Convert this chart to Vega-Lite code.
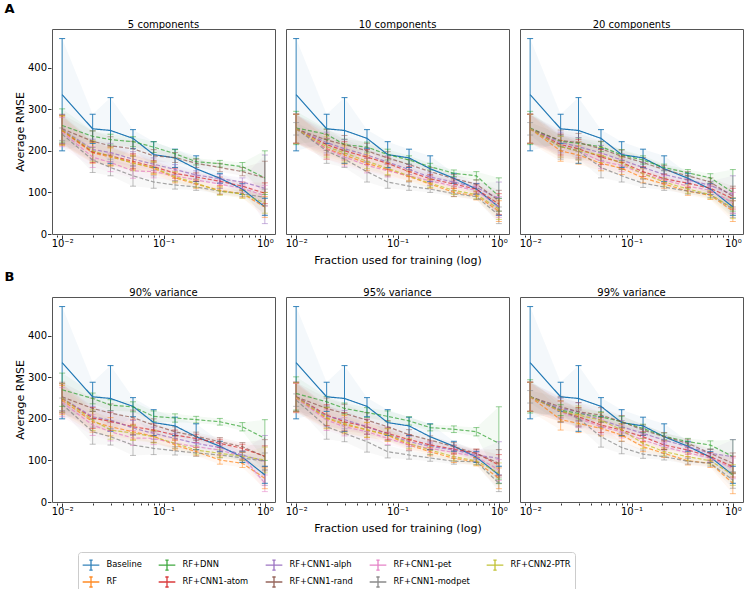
{
  "$schema": "https://vega.github.io/schema/vega-lite/v6.json",
  "padding": {"left": 4, "top": 3, "right": 0, "bottom": 0},
  "background": "white",
  "data": {
    "values": [
      {"p":"5 components","m":"Baseline","f":0.01,"y":335,"lo":200,"hi":470},{"p":"5 components","m":"Baseline","f":0.02,"y":253,"lo":218,"hi":288},{"p":"5 components","m":"Baseline","f":0.03,"y":249,"lo":170,"hi":328},{"p":"5 components","m":"Baseline","f":0.05,"y":230,"lo":205,"hi":251},{"p":"5 components","m":"Baseline","f":0.08,"y":191,"lo":160,"hi":222},{"p":"5 components","m":"Baseline","f":0.13,"y":183,"lo":160,"hi":204},{"p":"5 components","m":"Baseline","f":0.21,"y":157,"lo":126,"hi":188},{"p":"5 components","m":"Baseline","f":0.36,"y":134,"lo":122,"hi":146},{"p":"5 components","m":"Baseline","f":0.6,"y":108,"lo":95,"hi":121},{"p":"5 components","m":"Baseline","f":1,"y":65,"lo":45,"hi":86},
      {"p":"10 components","m":"Baseline","f":0.01,"y":335,"lo":200,"hi":470},{"p":"10 components","m":"Baseline","f":0.02,"y":253,"lo":218,"hi":288},{"p":"10 components","m":"Baseline","f":0.03,"y":249,"lo":170,"hi":328},{"p":"10 components","m":"Baseline","f":0.05,"y":230,"lo":205,"hi":251},{"p":"10 components","m":"Baseline","f":0.08,"y":191,"lo":160,"hi":222},{"p":"10 components","m":"Baseline","f":0.13,"y":183,"lo":160,"hi":204},{"p":"10 components","m":"Baseline","f":0.21,"y":157,"lo":126,"hi":188},{"p":"10 components","m":"Baseline","f":0.36,"y":134,"lo":122,"hi":146},{"p":"10 components","m":"Baseline","f":0.6,"y":108,"lo":95,"hi":121},{"p":"10 components","m":"Baseline","f":1,"y":65,"lo":45,"hi":86},
      {"p":"20 components","m":"Baseline","f":0.01,"y":335,"lo":200,"hi":470},{"p":"20 components","m":"Baseline","f":0.02,"y":253,"lo":218,"hi":288},{"p":"20 components","m":"Baseline","f":0.03,"y":249,"lo":170,"hi":328},{"p":"20 components","m":"Baseline","f":0.05,"y":230,"lo":205,"hi":251},{"p":"20 components","m":"Baseline","f":0.08,"y":191,"lo":160,"hi":222},{"p":"20 components","m":"Baseline","f":0.13,"y":183,"lo":160,"hi":204},{"p":"20 components","m":"Baseline","f":0.21,"y":157,"lo":126,"hi":188},{"p":"20 components","m":"Baseline","f":0.36,"y":134,"lo":122,"hi":146},{"p":"20 components","m":"Baseline","f":0.6,"y":108,"lo":95,"hi":121},{"p":"20 components","m":"Baseline","f":1,"y":65,"lo":45,"hi":86},
      {"p":"90% variance","m":"Baseline","f":0.01,"y":335,"lo":200,"hi":470},{"p":"90% variance","m":"Baseline","f":0.02,"y":253,"lo":218,"hi":288},{"p":"90% variance","m":"Baseline","f":0.03,"y":249,"lo":170,"hi":328},{"p":"90% variance","m":"Baseline","f":0.05,"y":230,"lo":205,"hi":251},{"p":"90% variance","m":"Baseline","f":0.08,"y":191,"lo":160,"hi":222},{"p":"90% variance","m":"Baseline","f":0.13,"y":183,"lo":160,"hi":204},{"p":"90% variance","m":"Baseline","f":0.21,"y":157,"lo":126,"hi":188},{"p":"90% variance","m":"Baseline","f":0.36,"y":134,"lo":122,"hi":146},{"p":"90% variance","m":"Baseline","f":0.6,"y":108,"lo":95,"hi":121},{"p":"90% variance","m":"Baseline","f":1,"y":65,"lo":45,"hi":86},
      {"p":"95% variance","m":"Baseline","f":0.01,"y":335,"lo":200,"hi":470},{"p":"95% variance","m":"Baseline","f":0.02,"y":253,"lo":218,"hi":288},{"p":"95% variance","m":"Baseline","f":0.03,"y":249,"lo":170,"hi":328},{"p":"95% variance","m":"Baseline","f":0.05,"y":230,"lo":205,"hi":251},{"p":"95% variance","m":"Baseline","f":0.08,"y":191,"lo":160,"hi":222},{"p":"95% variance","m":"Baseline","f":0.13,"y":183,"lo":160,"hi":204},{"p":"95% variance","m":"Baseline","f":0.21,"y":157,"lo":126,"hi":188},{"p":"95% variance","m":"Baseline","f":0.36,"y":134,"lo":122,"hi":146},{"p":"95% variance","m":"Baseline","f":0.6,"y":108,"lo":95,"hi":121},{"p":"95% variance","m":"Baseline","f":1,"y":65,"lo":45,"hi":86},
      {"p":"99% variance","m":"Baseline","f":0.01,"y":335,"lo":200,"hi":470},{"p":"99% variance","m":"Baseline","f":0.02,"y":253,"lo":218,"hi":288},{"p":"99% variance","m":"Baseline","f":0.03,"y":249,"lo":170,"hi":328},{"p":"99% variance","m":"Baseline","f":0.05,"y":230,"lo":205,"hi":251},{"p":"99% variance","m":"Baseline","f":0.08,"y":191,"lo":160,"hi":222},{"p":"99% variance","m":"Baseline","f":0.13,"y":183,"lo":160,"hi":204},{"p":"99% variance","m":"Baseline","f":0.21,"y":157,"lo":126,"hi":188},{"p":"99% variance","m":"Baseline","f":0.36,"y":134,"lo":122,"hi":146},{"p":"99% variance","m":"Baseline","f":0.6,"y":108,"lo":95,"hi":121},{"p":"99% variance","m":"Baseline","f":1,"y":65,"lo":45,"hi":86},

      {"p":"5 components","m":"RF","f":0.01,"y":248,"lo":213,"hi":283},{"p":"5 components","m":"RF","f":0.02,"y":195,"lo":170,"hi":220},{"p":"5 components","m":"RF","f":0.03,"y":185,"lo":163,"hi":207},{"p":"5 components","m":"RF","f":0.05,"y":172,"lo":154,"hi":190},{"p":"5 components","m":"RF","f":0.08,"y":158,"lo":143,"hi":173},{"p":"5 components","m":"RF","f":0.13,"y":135,"lo":123,"hi":147},{"p":"5 components","m":"RF","f":0.21,"y":120,"lo":110,"hi":130},{"p":"5 components","m":"RF","f":0.36,"y":105,"lo":95,"hi":115},{"p":"5 components","m":"RF","f":0.6,"y":97,"lo":87,"hi":107},{"p":"5 components","m":"RF","f":1,"y":65,"lo":40,"hi":90},
      {"p":"5 components","m":"RF+DNN","f":0.01,"y":261,"lo":221,"hi":301},{"p":"5 components","m":"RF+DNN","f":0.02,"y":235,"lo":222,"hi":248},{"p":"5 components","m":"RF+DNN","f":0.03,"y":227,"lo":214,"hi":240},{"p":"5 components","m":"RF+DNN","f":0.05,"y":222,"lo":210,"hi":234},{"p":"5 components","m":"RF+DNN","f":0.08,"y":209,"lo":196,"hi":222},{"p":"5 components","m":"RF+DNN","f":0.13,"y":193,"lo":183,"hi":203},{"p":"5 components","m":"RF+DNN","f":0.21,"y":174,"lo":166,"hi":182},{"p":"5 components","m":"RF+DNN","f":0.36,"y":169,"lo":161,"hi":177},{"p":"5 components","m":"RF+DNN","f":0.6,"y":162,"lo":152,"hi":172},{"p":"5 components","m":"RF+DNN","f":1,"y":135,"lo":95,"hi":200},
      {"p":"5 components","m":"RF+CNN1-atom","f":0.01,"y":250,"lo":215,"hi":285},{"p":"5 components","m":"RF+CNN1-atom","f":0.02,"y":197,"lo":172,"hi":222},{"p":"5 components","m":"RF+CNN1-atom","f":0.03,"y":188,"lo":166,"hi":210},{"p":"5 components","m":"RF+CNN1-atom","f":0.05,"y":175,"lo":157,"hi":193},{"p":"5 components","m":"RF+CNN1-atom","f":0.08,"y":162,"lo":147,"hi":177},{"p":"5 components","m":"RF+CNN1-atom","f":0.13,"y":146,"lo":134,"hi":158},{"p":"5 components","m":"RF+CNN1-atom","f":0.21,"y":137,"lo":127,"hi":147},{"p":"5 components","m":"RF+CNN1-atom","f":0.36,"y":127,"lo":117,"hi":137},{"p":"5 components","m":"RF+CNN1-atom","f":0.6,"y":115,"lo":105,"hi":125},{"p":"5 components","m":"RF+CNN1-atom","f":1,"y":98,"lo":73,"hi":123},
      {"p":"5 components","m":"RF+CNN1-alph","f":0.01,"y":252,"lo":217,"hi":287},{"p":"5 components","m":"RF+CNN1-alph","f":0.02,"y":203,"lo":178,"hi":228},{"p":"5 components","m":"RF+CNN1-alph","f":0.03,"y":196,"lo":174,"hi":218},{"p":"5 components","m":"RF+CNN1-alph","f":0.05,"y":180,"lo":162,"hi":198},{"p":"5 components","m":"RF+CNN1-alph","f":0.08,"y":168,"lo":153,"hi":183},{"p":"5 components","m":"RF+CNN1-alph","f":0.13,"y":155,"lo":143,"hi":167},{"p":"5 components","m":"RF+CNN1-alph","f":0.21,"y":142,"lo":132,"hi":152},{"p":"5 components","m":"RF+CNN1-alph","f":0.36,"y":133,"lo":123,"hi":143},{"p":"5 components","m":"RF+CNN1-alph","f":0.6,"y":125,"lo":115,"hi":135},{"p":"5 components","m":"RF+CNN1-alph","f":1,"y":110,"lo":25,"hi":190},
      {"p":"5 components","m":"RF+CNN1-rand","f":0.01,"y":253,"lo":218,"hi":288},{"p":"5 components","m":"RF+CNN1-rand","f":0.02,"y":223,"lo":198,"hi":248},{"p":"5 components","m":"RF+CNN1-rand","f":0.03,"y":212,"lo":190,"hi":234},{"p":"5 components","m":"RF+CNN1-rand","f":0.05,"y":205,"lo":187,"hi":223},{"p":"5 components","m":"RF+CNN1-rand","f":0.08,"y":188,"lo":173,"hi":203},{"p":"5 components","m":"RF+CNN1-rand","f":0.13,"y":184,"lo":172,"hi":196},{"p":"5 components","m":"RF+CNN1-rand","f":0.21,"y":170,"lo":160,"hi":180},{"p":"5 components","m":"RF+CNN1-rand","f":0.36,"y":160,"lo":150,"hi":170},{"p":"5 components","m":"RF+CNN1-rand","f":0.6,"y":150,"lo":140,"hi":160},{"p":"5 components","m":"RF+CNN1-rand","f":1,"y":135,"lo":100,"hi":175},
      {"p":"5 components","m":"RF+CNN1-pet","f":0.01,"y":245,"lo":210,"hi":280},{"p":"5 components","m":"RF+CNN1-pet","f":0.02,"y":185,"lo":160,"hi":210},{"p":"5 components","m":"RF+CNN1-pet","f":0.03,"y":172,"lo":150,"hi":194},{"p":"5 components","m":"RF+CNN1-pet","f":0.05,"y":152,"lo":134,"hi":170},{"p":"5 components","m":"RF+CNN1-pet","f":0.08,"y":150,"lo":135,"hi":165},{"p":"5 components","m":"RF+CNN1-pet","f":0.13,"y":140,"lo":128,"hi":152},{"p":"5 components","m":"RF+CNN1-pet","f":0.21,"y":130,"lo":120,"hi":140},{"p":"5 components","m":"RF+CNN1-pet","f":0.36,"y":120,"lo":110,"hi":130},{"p":"5 components","m":"RF+CNN1-pet","f":0.6,"y":110,"lo":100,"hi":120},{"p":"5 components","m":"RF+CNN1-pet","f":1,"y":92,"lo":67,"hi":117},
      {"p":"5 components","m":"RF+CNN1-modpet","f":0.01,"y":240,"lo":225,"hi":255},{"p":"5 components","m":"RF+CNN1-modpet","f":0.02,"y":178,"lo":148,"hi":208},{"p":"5 components","m":"RF+CNN1-modpet","f":0.03,"y":160,"lo":140,"hi":180},{"p":"5 components","m":"RF+CNN1-modpet","f":0.05,"y":140,"lo":115,"hi":165},{"p":"5 components","m":"RF+CNN1-modpet","f":0.08,"y":125,"lo":110,"hi":140},{"p":"5 components","m":"RF+CNN1-modpet","f":0.13,"y":118,"lo":108,"hi":128},{"p":"5 components","m":"RF+CNN1-modpet","f":0.21,"y":113,"lo":105,"hi":121},{"p":"5 components","m":"RF+CNN1-modpet","f":0.36,"y":103,"lo":96,"hi":110},{"p":"5 components","m":"RF+CNN1-modpet","f":0.6,"y":97,"lo":90,"hi":104},{"p":"5 components","m":"RF+CNN1-modpet","f":1,"y":88,"lo":68,"hi":108},
      {"p":"5 components","m":"RF+CNN2-PTR","f":0.01,"y":250,"lo":215,"hi":285},{"p":"5 components","m":"RF+CNN2-PTR","f":0.02,"y":200,"lo":175,"hi":225},{"p":"5 components","m":"RF+CNN2-PTR","f":0.03,"y":187,"lo":165,"hi":209},{"p":"5 components","m":"RF+CNN2-PTR","f":0.05,"y":170,"lo":152,"hi":188},{"p":"5 components","m":"RF+CNN2-PTR","f":0.08,"y":160,"lo":145,"hi":175},{"p":"5 components","m":"RF+CNN2-PTR","f":0.13,"y":138,"lo":126,"hi":150},{"p":"5 components","m":"RF+CNN2-PTR","f":0.21,"y":122,"lo":112,"hi":132},{"p":"5 components","m":"RF+CNN2-PTR","f":0.36,"y":103,"lo":93,"hi":113},{"p":"5 components","m":"RF+CNN2-PTR","f":0.6,"y":96,"lo":86,"hi":106},{"p":"5 components","m":"RF+CNN2-PTR","f":1,"y":75,"lo":50,"hi":100},

      {"p":"10 components","m":"RF","f":0.01,"y":253,"lo":218,"hi":288},{"p":"10 components","m":"RF","f":0.02,"y":205,"lo":180,"hi":230},{"p":"10 components","m":"RF","f":0.03,"y":190,"lo":168,"hi":212},{"p":"10 components","m":"RF","f":0.05,"y":170,"lo":152,"hi":188},{"p":"10 components","m":"RF","f":0.08,"y":155,"lo":140,"hi":170},{"p":"10 components","m":"RF","f":0.13,"y":138,"lo":126,"hi":150},{"p":"10 components","m":"RF","f":0.21,"y":120,"lo":110,"hi":130},{"p":"10 components","m":"RF","f":0.36,"y":100,"lo":90,"hi":110},{"p":"10 components","m":"RF","f":0.6,"y":92,"lo":82,"hi":102},{"p":"10 components","m":"RF","f":1,"y":55,"lo":30,"hi":80},
      {"p":"10 components","m":"RF+DNN","f":0.01,"y":255,"lo":215,"hi":295},{"p":"10 components","m":"RF+DNN","f":0.02,"y":240,"lo":227,"hi":253},{"p":"10 components","m":"RF+DNN","f":0.03,"y":215,"lo":202,"hi":228},{"p":"10 components","m":"RF+DNN","f":0.05,"y":209,"lo":197,"hi":221},{"p":"10 components","m":"RF+DNN","f":0.08,"y":191,"lo":178,"hi":204},{"p":"10 components","m":"RF+DNN","f":0.13,"y":178,"lo":168,"hi":188},{"p":"10 components","m":"RF+DNN","f":0.21,"y":162,"lo":154,"hi":170},{"p":"10 components","m":"RF+DNN","f":0.36,"y":146,"lo":138,"hi":154},{"p":"10 components","m":"RF+DNN","f":0.6,"y":140,"lo":130,"hi":150},{"p":"10 components","m":"RF+DNN","f":1,"y":91,"lo":55,"hi":135},
      {"p":"10 components","m":"RF+CNN1-atom","f":0.01,"y":253,"lo":218,"hi":288},{"p":"10 components","m":"RF+CNN1-atom","f":0.02,"y":215,"lo":190,"hi":240},{"p":"10 components","m":"RF+CNN1-atom","f":0.03,"y":200,"lo":178,"hi":222},{"p":"10 components","m":"RF+CNN1-atom","f":0.05,"y":185,"lo":167,"hi":203},{"p":"10 components","m":"RF+CNN1-atom","f":0.08,"y":170,"lo":155,"hi":185},{"p":"10 components","m":"RF+CNN1-atom","f":0.13,"y":150,"lo":138,"hi":162},{"p":"10 components","m":"RF+CNN1-atom","f":0.21,"y":133,"lo":123,"hi":143},{"p":"10 components","m":"RF+CNN1-atom","f":0.36,"y":120,"lo":110,"hi":130},{"p":"10 components","m":"RF+CNN1-atom","f":0.6,"y":108,"lo":98,"hi":118},{"p":"10 components","m":"RF+CNN1-atom","f":1,"y":72,"lo":47,"hi":97},
      {"p":"10 components","m":"RF+CNN1-alph","f":0.01,"y":253,"lo":218,"hi":288},{"p":"10 components","m":"RF+CNN1-alph","f":0.02,"y":220,"lo":195,"hi":245},{"p":"10 components","m":"RF+CNN1-alph","f":0.03,"y":205,"lo":183,"hi":227},{"p":"10 components","m":"RF+CNN1-alph","f":0.05,"y":190,"lo":172,"hi":208},{"p":"10 components","m":"RF+CNN1-alph","f":0.08,"y":173,"lo":158,"hi":188},{"p":"10 components","m":"RF+CNN1-alph","f":0.13,"y":155,"lo":143,"hi":167},{"p":"10 components","m":"RF+CNN1-alph","f":0.21,"y":137,"lo":127,"hi":147},{"p":"10 components","m":"RF+CNN1-alph","f":0.36,"y":125,"lo":115,"hi":135},{"p":"10 components","m":"RF+CNN1-alph","f":0.6,"y":112,"lo":102,"hi":122},{"p":"10 components","m":"RF+CNN1-alph","f":1,"y":85,"lo":45,"hi":125},
      {"p":"10 components","m":"RF+CNN1-rand","f":0.01,"y":253,"lo":218,"hi":288},{"p":"10 components","m":"RF+CNN1-rand","f":0.02,"y":226,"lo":201,"hi":251},{"p":"10 components","m":"RF+CNN1-rand","f":0.03,"y":215,"lo":193,"hi":237},{"p":"10 components","m":"RF+CNN1-rand","f":0.05,"y":200,"lo":182,"hi":218},{"p":"10 components","m":"RF+CNN1-rand","f":0.08,"y":183,"lo":168,"hi":198},{"p":"10 components","m":"RF+CNN1-rand","f":0.13,"y":167,"lo":155,"hi":179},{"p":"10 components","m":"RF+CNN1-rand","f":0.21,"y":150,"lo":140,"hi":160},{"p":"10 components","m":"RF+CNN1-rand","f":0.36,"y":133,"lo":123,"hi":143},{"p":"10 components","m":"RF+CNN1-rand","f":0.6,"y":120,"lo":110,"hi":130},{"p":"10 components","m":"RF+CNN1-rand","f":1,"y":80,"lo":55,"hi":105},
      {"p":"10 components","m":"RF+CNN1-pet","f":0.01,"y":253,"lo":218,"hi":288},{"p":"10 components","m":"RF+CNN1-pet","f":0.02,"y":205,"lo":180,"hi":230},{"p":"10 components","m":"RF+CNN1-pet","f":0.03,"y":185,"lo":163,"hi":207},{"p":"10 components","m":"RF+CNN1-pet","f":0.05,"y":165,"lo":147,"hi":183},{"p":"10 components","m":"RF+CNN1-pet","f":0.08,"y":152,"lo":137,"hi":167},{"p":"10 components","m":"RF+CNN1-pet","f":0.13,"y":140,"lo":128,"hi":152},{"p":"10 components","m":"RF+CNN1-pet","f":0.21,"y":128,"lo":118,"hi":138},{"p":"10 components","m":"RF+CNN1-pet","f":0.36,"y":115,"lo":105,"hi":125},{"p":"10 components","m":"RF+CNN1-pet","f":0.6,"y":105,"lo":95,"hi":115},{"p":"10 components","m":"RF+CNN1-pet","f":1,"y":65,"lo":40,"hi":90},
      {"p":"10 components","m":"RF+CNN1-modpet","f":0.01,"y":253,"lo":238,"hi":268},{"p":"10 components","m":"RF+CNN1-modpet","f":0.02,"y":200,"lo":170,"hi":230},{"p":"10 components","m":"RF+CNN1-modpet","f":0.03,"y":180,"lo":160,"hi":200},{"p":"10 components","m":"RF+CNN1-modpet","f":0.05,"y":150,"lo":125,"hi":175},{"p":"10 components","m":"RF+CNN1-modpet","f":0.08,"y":125,"lo":110,"hi":140},{"p":"10 components","m":"RF+CNN1-modpet","f":0.13,"y":115,"lo":105,"hi":125},{"p":"10 components","m":"RF+CNN1-modpet","f":0.21,"y":108,"lo":100,"hi":116},{"p":"10 components","m":"RF+CNN1-modpet","f":0.36,"y":97,"lo":90,"hi":104},{"p":"10 components","m":"RF+CNN1-modpet","f":0.6,"y":90,"lo":83,"hi":97},{"p":"10 components","m":"RF+CNN1-modpet","f":1,"y":45,"lo":25,"hi":65},
      {"p":"10 components","m":"RF+CNN2-PTR","f":0.01,"y":253,"lo":218,"hi":288},{"p":"10 components","m":"RF+CNN2-PTR","f":0.02,"y":210,"lo":185,"hi":235},{"p":"10 components","m":"RF+CNN2-PTR","f":0.03,"y":195,"lo":173,"hi":217},{"p":"10 components","m":"RF+CNN2-PTR","f":0.05,"y":175,"lo":157,"hi":193},{"p":"10 components","m":"RF+CNN2-PTR","f":0.08,"y":158,"lo":143,"hi":173},{"p":"10 components","m":"RF+CNN2-PTR","f":0.13,"y":140,"lo":128,"hi":152},{"p":"10 components","m":"RF+CNN2-PTR","f":0.21,"y":122,"lo":112,"hi":132},{"p":"10 components","m":"RF+CNN2-PTR","f":0.36,"y":105,"lo":95,"hi":115},{"p":"10 components","m":"RF+CNN2-PTR","f":0.6,"y":95,"lo":85,"hi":105},{"p":"10 components","m":"RF+CNN2-PTR","f":1,"y":60,"lo":35,"hi":85},

      {"p":"20 components","m":"RF","f":0.01,"y":253,"lo":218,"hi":288},{"p":"20 components","m":"RF","f":0.02,"y":200,"lo":175,"hi":225},{"p":"20 components","m":"RF","f":0.03,"y":190,"lo":168,"hi":212},{"p":"20 components","m":"RF","f":0.05,"y":170,"lo":152,"hi":188},{"p":"20 components","m":"RF","f":0.08,"y":158,"lo":143,"hi":173},{"p":"20 components","m":"RF","f":0.13,"y":135,"lo":123,"hi":147},{"p":"20 components","m":"RF","f":0.21,"y":120,"lo":110,"hi":130},{"p":"20 components","m":"RF","f":0.36,"y":103,"lo":93,"hi":113},{"p":"20 components","m":"RF","f":0.6,"y":93,"lo":83,"hi":103},{"p":"20 components","m":"RF","f":1,"y":55,"lo":30,"hi":80},
      {"p":"20 components","m":"RF+DNN","f":0.01,"y":255,"lo":215,"hi":295},{"p":"20 components","m":"RF+DNN","f":0.02,"y":223,"lo":210,"hi":236},{"p":"20 components","m":"RF+DNN","f":0.03,"y":218,"lo":205,"hi":231},{"p":"20 components","m":"RF+DNN","f":0.05,"y":210,"lo":198,"hi":222},{"p":"20 components","m":"RF+DNN","f":0.08,"y":190,"lo":177,"hi":203},{"p":"20 components","m":"RF+DNN","f":0.13,"y":178,"lo":168,"hi":188},{"p":"20 components","m":"RF+DNN","f":0.21,"y":160,"lo":152,"hi":168},{"p":"20 components","m":"RF+DNN","f":0.36,"y":147,"lo":139,"hi":155},{"p":"20 components","m":"RF+DNN","f":0.6,"y":135,"lo":125,"hi":145},{"p":"20 components","m":"RF+DNN","f":1,"y":100,"lo":55,"hi":155},
      {"p":"20 components","m":"RF+CNN1-atom","f":0.01,"y":253,"lo":218,"hi":288},{"p":"20 components","m":"RF+CNN1-atom","f":0.02,"y":215,"lo":190,"hi":240},{"p":"20 components","m":"RF+CNN1-atom","f":0.03,"y":205,"lo":183,"hi":227},{"p":"20 components","m":"RF+CNN1-atom","f":0.05,"y":185,"lo":167,"hi":203},{"p":"20 components","m":"RF+CNN1-atom","f":0.08,"y":172,"lo":157,"hi":187},{"p":"20 components","m":"RF+CNN1-atom","f":0.13,"y":150,"lo":138,"hi":162},{"p":"20 components","m":"RF+CNN1-atom","f":0.21,"y":133,"lo":123,"hi":143},{"p":"20 components","m":"RF+CNN1-atom","f":0.36,"y":122,"lo":112,"hi":132},{"p":"20 components","m":"RF+CNN1-atom","f":0.6,"y":110,"lo":100,"hi":120},{"p":"20 components","m":"RF+CNN1-atom","f":1,"y":85,"lo":60,"hi":110},
      {"p":"20 components","m":"RF+CNN1-alph","f":0.01,"y":253,"lo":218,"hi":288},{"p":"20 components","m":"RF+CNN1-alph","f":0.02,"y":220,"lo":195,"hi":245},{"p":"20 components","m":"RF+CNN1-alph","f":0.03,"y":210,"lo":188,"hi":232},{"p":"20 components","m":"RF+CNN1-alph","f":0.05,"y":195,"lo":177,"hi":213},{"p":"20 components","m":"RF+CNN1-alph","f":0.08,"y":178,"lo":163,"hi":193},{"p":"20 components","m":"RF+CNN1-alph","f":0.13,"y":160,"lo":148,"hi":172},{"p":"20 components","m":"RF+CNN1-alph","f":0.21,"y":143,"lo":133,"hi":153},{"p":"20 components","m":"RF+CNN1-alph","f":0.36,"y":130,"lo":120,"hi":140},{"p":"20 components","m":"RF+CNN1-alph","f":0.6,"y":117,"lo":107,"hi":127},{"p":"20 components","m":"RF+CNN1-alph","f":1,"y":95,"lo":50,"hi":140},
      {"p":"20 components","m":"RF+CNN1-rand","f":0.01,"y":253,"lo":218,"hi":288},{"p":"20 components","m":"RF+CNN1-rand","f":0.02,"y":225,"lo":200,"hi":250},{"p":"20 components","m":"RF+CNN1-rand","f":0.03,"y":220,"lo":198,"hi":242},{"p":"20 components","m":"RF+CNN1-rand","f":0.05,"y":205,"lo":187,"hi":223},{"p":"20 components","m":"RF+CNN1-rand","f":0.08,"y":187,"lo":172,"hi":202},{"p":"20 components","m":"RF+CNN1-rand","f":0.13,"y":172,"lo":160,"hi":184},{"p":"20 components","m":"RF+CNN1-rand","f":0.21,"y":155,"lo":145,"hi":165},{"p":"20 components","m":"RF+CNN1-rand","f":0.36,"y":140,"lo":130,"hi":150},{"p":"20 components","m":"RF+CNN1-rand","f":0.6,"y":125,"lo":115,"hi":135},{"p":"20 components","m":"RF+CNN1-rand","f":1,"y":90,"lo":65,"hi":115},
      {"p":"20 components","m":"RF+CNN1-pet","f":0.01,"y":253,"lo":218,"hi":288},{"p":"20 components","m":"RF+CNN1-pet","f":0.02,"y":210,"lo":185,"hi":235},{"p":"20 components","m":"RF+CNN1-pet","f":0.03,"y":200,"lo":178,"hi":222},{"p":"20 components","m":"RF+CNN1-pet","f":0.05,"y":175,"lo":157,"hi":193},{"p":"20 components","m":"RF+CNN1-pet","f":0.08,"y":165,"lo":150,"hi":180},{"p":"20 components","m":"RF+CNN1-pet","f":0.13,"y":145,"lo":133,"hi":157},{"p":"20 components","m":"RF+CNN1-pet","f":0.21,"y":130,"lo":120,"hi":140},{"p":"20 components","m":"RF+CNN1-pet","f":0.36,"y":115,"lo":105,"hi":125},{"p":"20 components","m":"RF+CNN1-pet","f":0.6,"y":105,"lo":95,"hi":115},{"p":"20 components","m":"RF+CNN1-pet","f":1,"y":75,"lo":50,"hi":100},
      {"p":"20 components","m":"RF+CNN1-modpet","f":0.01,"y":253,"lo":238,"hi":268},{"p":"20 components","m":"RF+CNN1-modpet","f":0.02,"y":210,"lo":180,"hi":240},{"p":"20 components","m":"RF+CNN1-modpet","f":0.03,"y":200,"lo":180,"hi":220},{"p":"20 components","m":"RF+CNN1-modpet","f":0.05,"y":160,"lo":135,"hi":185},{"p":"20 components","m":"RF+CNN1-modpet","f":0.08,"y":140,"lo":125,"hi":155},{"p":"20 components","m":"RF+CNN1-modpet","f":0.13,"y":122,"lo":112,"hi":132},{"p":"20 components","m":"RF+CNN1-modpet","f":0.21,"y":113,"lo":105,"hi":121},{"p":"20 components","m":"RF+CNN1-modpet","f":0.36,"y":103,"lo":96,"hi":110},{"p":"20 components","m":"RF+CNN1-modpet","f":0.6,"y":95,"lo":88,"hi":102},{"p":"20 components","m":"RF+CNN1-modpet","f":1,"y":60,"lo":40,"hi":80},
      {"p":"20 components","m":"RF+CNN2-PTR","f":0.01,"y":253,"lo":218,"hi":288},{"p":"20 components","m":"RF+CNN2-PTR","f":0.02,"y":210,"lo":185,"hi":235},{"p":"20 components","m":"RF+CNN2-PTR","f":0.03,"y":200,"lo":178,"hi":222},{"p":"20 components","m":"RF+CNN2-PTR","f":0.05,"y":190,"lo":172,"hi":208},{"p":"20 components","m":"RF+CNN2-PTR","f":0.08,"y":170,"lo":155,"hi":185},{"p":"20 components","m":"RF+CNN2-PTR","f":0.13,"y":145,"lo":133,"hi":157},{"p":"20 components","m":"RF+CNN2-PTR","f":0.21,"y":125,"lo":115,"hi":135},{"p":"20 components","m":"RF+CNN2-PTR","f":0.36,"y":108,"lo":98,"hi":118},{"p":"20 components","m":"RF+CNN2-PTR","f":0.6,"y":95,"lo":85,"hi":105},{"p":"20 components","m":"RF+CNN2-PTR","f":1,"y":62,"lo":37,"hi":87},

      {"p":"90% variance","m":"RF","f":0.01,"y":245,"lo":210,"hi":280},{"p":"90% variance","m":"RF","f":0.02,"y":193,"lo":168,"hi":218},{"p":"90% variance","m":"RF","f":0.03,"y":181,"lo":159,"hi":203},{"p":"90% variance","m":"RF","f":0.05,"y":169,"lo":151,"hi":187},{"p":"90% variance","m":"RF","f":0.08,"y":158,"lo":143,"hi":173},{"p":"90% variance","m":"RF","f":0.13,"y":137,"lo":125,"hi":149},{"p":"90% variance","m":"RF","f":0.21,"y":121,"lo":111,"hi":131},{"p":"90% variance","m":"RF","f":0.36,"y":101,"lo":91,"hi":111},{"p":"90% variance","m":"RF","f":0.6,"y":93,"lo":83,"hi":103},{"p":"90% variance","m":"RF","f":1,"y":57,"lo":32,"hi":82},
      {"p":"90% variance","m":"RF+DNN","f":0.01,"y":270,"lo":230,"hi":310},{"p":"90% variance","m":"RF+DNN","f":0.02,"y":249,"lo":236,"hi":262},{"p":"90% variance","m":"RF+DNN","f":0.03,"y":233,"lo":220,"hi":246},{"p":"90% variance","m":"RF+DNN","f":0.05,"y":229,"lo":217,"hi":241},{"p":"90% variance","m":"RF+DNN","f":0.08,"y":206,"lo":193,"hi":219},{"p":"90% variance","m":"RF+DNN","f":0.13,"y":202,"lo":192,"hi":212},{"p":"90% variance","m":"RF+DNN","f":0.21,"y":198,"lo":190,"hi":206},{"p":"90% variance","m":"RF+DNN","f":0.36,"y":193,"lo":185,"hi":201},{"p":"90% variance","m":"RF+DNN","f":0.6,"y":181,"lo":171,"hi":191},{"p":"90% variance","m":"RF+DNN","f":1,"y":153,"lo":100,"hi":198},
      {"p":"90% variance","m":"RF+CNN1-atom","f":0.01,"y":249,"lo":214,"hi":284},{"p":"90% variance","m":"RF+CNN1-atom","f":0.02,"y":202,"lo":177,"hi":227},{"p":"90% variance","m":"RF+CNN1-atom","f":0.03,"y":194,"lo":172,"hi":216},{"p":"90% variance","m":"RF+CNN1-atom","f":0.05,"y":181,"lo":163,"hi":199},{"p":"90% variance","m":"RF+CNN1-atom","f":0.08,"y":173,"lo":158,"hi":188},{"p":"90% variance","m":"RF+CNN1-atom","f":0.13,"y":161,"lo":149,"hi":173},{"p":"90% variance","m":"RF+CNN1-atom","f":0.21,"y":153,"lo":143,"hi":163},{"p":"90% variance","m":"RF+CNN1-atom","f":0.36,"y":141,"lo":131,"hi":151},{"p":"90% variance","m":"RF+CNN1-atom","f":0.6,"y":129,"lo":119,"hi":139},{"p":"90% variance","m":"RF+CNN1-atom","f":1,"y":110,"lo":85,"hi":135},
      {"p":"90% variance","m":"RF+CNN1-alph","f":0.01,"y":250,"lo":215,"hi":285},{"p":"90% variance","m":"RF+CNN1-alph","f":0.02,"y":205,"lo":180,"hi":230},{"p":"90% variance","m":"RF+CNN1-alph","f":0.03,"y":197,"lo":175,"hi":219},{"p":"90% variance","m":"RF+CNN1-alph","f":0.05,"y":178,"lo":160,"hi":196},{"p":"90% variance","m":"RF+CNN1-alph","f":0.08,"y":165,"lo":150,"hi":180},{"p":"90% variance","m":"RF+CNN1-alph","f":0.13,"y":153,"lo":141,"hi":165},{"p":"90% variance","m":"RF+CNN1-alph","f":0.21,"y":141,"lo":131,"hi":151},{"p":"90% variance","m":"RF+CNN1-alph","f":0.36,"y":131,"lo":121,"hi":141},{"p":"90% variance","m":"RF+CNN1-alph","f":0.6,"y":113,"lo":103,"hi":123},{"p":"90% variance","m":"RF+CNN1-alph","f":1,"y":98,"lo":40,"hi":160},
      {"p":"90% variance","m":"RF+CNN1-rand","f":0.01,"y":253,"lo":218,"hi":288},{"p":"90% variance","m":"RF+CNN1-rand","f":0.02,"y":225,"lo":200,"hi":250},{"p":"90% variance","m":"RF+CNN1-rand","f":0.03,"y":214,"lo":192,"hi":236},{"p":"90% variance","m":"RF+CNN1-rand","f":0.05,"y":203,"lo":185,"hi":221},{"p":"90% variance","m":"RF+CNN1-rand","f":0.08,"y":185,"lo":170,"hi":200},{"p":"90% variance","m":"RF+CNN1-rand","f":0.13,"y":169,"lo":157,"hi":181},{"p":"90% variance","m":"RF+CNN1-rand","f":0.21,"y":158,"lo":148,"hi":168},{"p":"90% variance","m":"RF+CNN1-rand","f":0.36,"y":145,"lo":135,"hi":155},{"p":"90% variance","m":"RF+CNN1-rand","f":0.6,"y":133,"lo":123,"hi":143},{"p":"90% variance","m":"RF+CNN1-rand","f":1,"y":109,"lo":75,"hi":150},
      {"p":"90% variance","m":"RF+CNN1-pet","f":0.01,"y":240,"lo":205,"hi":275},{"p":"90% variance","m":"RF+CNN1-pet","f":0.02,"y":185,"lo":160,"hi":210},{"p":"90% variance","m":"RF+CNN1-pet","f":0.03,"y":169,"lo":147,"hi":191},{"p":"90% variance","m":"RF+CNN1-pet","f":0.05,"y":154,"lo":136,"hi":172},{"p":"90% variance","m":"RF+CNN1-pet","f":0.08,"y":153,"lo":138,"hi":168},{"p":"90% variance","m":"RF+CNN1-pet","f":0.13,"y":141,"lo":129,"hi":153},{"p":"90% variance","m":"RF+CNN1-pet","f":0.21,"y":133,"lo":123,"hi":143},{"p":"90% variance","m":"RF+CNN1-pet","f":0.36,"y":125,"lo":115,"hi":135},{"p":"90% variance","m":"RF+CNN1-pet","f":0.6,"y":110,"lo":100,"hi":120},{"p":"90% variance","m":"RF+CNN1-pet","f":1,"y":45,"lo":25,"hi":65},
      {"p":"90% variance","m":"RF+CNN1-modpet","f":0.01,"y":235,"lo":220,"hi":250},{"p":"90% variance","m":"RF+CNN1-modpet","f":0.02,"y":169,"lo":139,"hi":199},{"p":"90% variance","m":"RF+CNN1-modpet","f":0.03,"y":157,"lo":137,"hi":177},{"p":"90% variance","m":"RF+CNN1-modpet","f":0.05,"y":137,"lo":112,"hi":162},{"p":"90% variance","m":"RF+CNN1-modpet","f":0.08,"y":129,"lo":114,"hi":144},{"p":"90% variance","m":"RF+CNN1-modpet","f":0.13,"y":123,"lo":113,"hi":133},{"p":"90% variance","m":"RF+CNN1-modpet","f":0.21,"y":118,"lo":110,"hi":126},{"p":"90% variance","m":"RF+CNN1-modpet","f":0.36,"y":113,"lo":106,"hi":120},{"p":"90% variance","m":"RF+CNN1-modpet","f":0.6,"y":106,"lo":99,"hi":113},{"p":"90% variance","m":"RF+CNN1-modpet","f":1,"y":98,"lo":78,"hi":118},
      {"p":"90% variance","m":"RF+CNN2-PTR","f":0.01,"y":250,"lo":215,"hi":285},{"p":"90% variance","m":"RF+CNN2-PTR","f":0.02,"y":197,"lo":172,"hi":222},{"p":"90% variance","m":"RF+CNN2-PTR","f":0.03,"y":173,"lo":151,"hi":195},{"p":"90% variance","m":"RF+CNN2-PTR","f":0.05,"y":166,"lo":148,"hi":184},{"p":"90% variance","m":"RF+CNN2-PTR","f":0.08,"y":157,"lo":142,"hi":172},{"p":"90% variance","m":"RF+CNN2-PTR","f":0.13,"y":141,"lo":129,"hi":153},{"p":"90% variance","m":"RF+CNN2-PTR","f":0.21,"y":125,"lo":115,"hi":135},{"p":"90% variance","m":"RF+CNN2-PTR","f":0.36,"y":117,"lo":107,"hi":127},{"p":"90% variance","m":"RF+CNN2-PTR","f":0.6,"y":110,"lo":100,"hi":120},{"p":"90% variance","m":"RF+CNN2-PTR","f":1,"y":101,"lo":70,"hi":132},

      {"p":"95% variance","m":"RF","f":0.01,"y":250,"lo":215,"hi":285},{"p":"95% variance","m":"RF","f":0.02,"y":201,"lo":176,"hi":226},{"p":"95% variance","m":"RF","f":0.03,"y":186,"lo":164,"hi":208},{"p":"95% variance","m":"RF","f":0.05,"y":173,"lo":155,"hi":191},{"p":"95% variance","m":"RF","f":0.08,"y":161,"lo":146,"hi":176},{"p":"95% variance","m":"RF","f":0.13,"y":137,"lo":125,"hi":149},{"p":"95% variance","m":"RF","f":0.21,"y":121,"lo":111,"hi":131},{"p":"95% variance","m":"RF","f":0.36,"y":105,"lo":95,"hi":115},{"p":"95% variance","m":"RF","f":0.6,"y":97,"lo":87,"hi":107},{"p":"95% variance","m":"RF","f":1,"y":57,"lo":32,"hi":82},
      {"p":"95% variance","m":"RF+DNN","f":0.01,"y":261,"lo":221,"hi":301},{"p":"95% variance","m":"RF+DNN","f":0.02,"y":241,"lo":228,"hi":254},{"p":"95% variance","m":"RF+DNN","f":0.03,"y":225,"lo":212,"hi":238},{"p":"95% variance","m":"RF+DNN","f":0.05,"y":215,"lo":203,"hi":227},{"p":"95% variance","m":"RF+DNN","f":0.08,"y":206,"lo":193,"hi":219},{"p":"95% variance","m":"RF+DNN","f":0.13,"y":195,"lo":185,"hi":205},{"p":"95% variance","m":"RF+DNN","f":0.21,"y":179,"lo":171,"hi":187},{"p":"95% variance","m":"RF+DNN","f":0.36,"y":175,"lo":167,"hi":183},{"p":"95% variance","m":"RF+DNN","f":0.6,"y":169,"lo":159,"hi":179},{"p":"95% variance","m":"RF+DNN","f":1,"y":141,"lo":55,"hi":229},
      {"p":"95% variance","m":"RF+CNN1-atom","f":0.01,"y":253,"lo":218,"hi":288},{"p":"95% variance","m":"RF+CNN1-atom","f":0.02,"y":209,"lo":184,"hi":234},{"p":"95% variance","m":"RF+CNN1-atom","f":0.03,"y":193,"lo":171,"hi":215},{"p":"95% variance","m":"RF+CNN1-atom","f":0.05,"y":181,"lo":163,"hi":199},{"p":"95% variance","m":"RF+CNN1-atom","f":0.08,"y":165,"lo":150,"hi":180},{"p":"95% variance","m":"RF+CNN1-atom","f":0.13,"y":150,"lo":138,"hi":162},{"p":"95% variance","m":"RF+CNN1-atom","f":0.21,"y":137,"lo":127,"hi":147},{"p":"95% variance","m":"RF+CNN1-atom","f":0.36,"y":127,"lo":117,"hi":137},{"p":"95% variance","m":"RF+CNN1-atom","f":0.6,"y":117,"lo":107,"hi":127},{"p":"95% variance","m":"RF+CNN1-atom","f":1,"y":89,"lo":64,"hi":114},
      {"p":"95% variance","m":"RF+CNN1-alph","f":0.01,"y":253,"lo":218,"hi":288},{"p":"95% variance","m":"RF+CNN1-alph","f":0.02,"y":206,"lo":181,"hi":231},{"p":"95% variance","m":"RF+CNN1-alph","f":0.03,"y":198,"lo":176,"hi":220},{"p":"95% variance","m":"RF+CNN1-alph","f":0.05,"y":181,"lo":163,"hi":199},{"p":"95% variance","m":"RF+CNN1-alph","f":0.08,"y":163,"lo":148,"hi":178},{"p":"95% variance","m":"RF+CNN1-alph","f":0.13,"y":145,"lo":133,"hi":157},{"p":"95% variance","m":"RF+CNN1-alph","f":0.21,"y":134,"lo":124,"hi":144},{"p":"95% variance","m":"RF+CNN1-alph","f":0.36,"y":125,"lo":115,"hi":135},{"p":"95% variance","m":"RF+CNN1-alph","f":0.6,"y":113,"lo":103,"hi":123},{"p":"95% variance","m":"RF+CNN1-alph","f":1,"y":105,"lo":65,"hi":145},
      {"p":"95% variance","m":"RF+CNN1-rand","f":0.01,"y":253,"lo":218,"hi":288},{"p":"95% variance","m":"RF+CNN1-rand","f":0.02,"y":225,"lo":200,"hi":250},{"p":"95% variance","m":"RF+CNN1-rand","f":0.03,"y":213,"lo":191,"hi":235},{"p":"95% variance","m":"RF+CNN1-rand","f":0.05,"y":197,"lo":179,"hi":215},{"p":"95% variance","m":"RF+CNN1-rand","f":0.08,"y":181,"lo":166,"hi":196},{"p":"95% variance","m":"RF+CNN1-rand","f":0.13,"y":162,"lo":150,"hi":174},{"p":"95% variance","m":"RF+CNN1-rand","f":0.21,"y":149,"lo":139,"hi":159},{"p":"95% variance","m":"RF+CNN1-rand","f":0.36,"y":133,"lo":123,"hi":143},{"p":"95% variance","m":"RF+CNN1-rand","f":0.6,"y":117,"lo":107,"hi":127},{"p":"95% variance","m":"RF+CNN1-rand","f":1,"y":93,"lo":60,"hi":126},
      {"p":"95% variance","m":"RF+CNN1-pet","f":0.01,"y":250,"lo":215,"hi":285},{"p":"95% variance","m":"RF+CNN1-pet","f":0.02,"y":197,"lo":172,"hi":222},{"p":"95% variance","m":"RF+CNN1-pet","f":0.03,"y":181,"lo":159,"hi":203},{"p":"95% variance","m":"RF+CNN1-pet","f":0.05,"y":169,"lo":151,"hi":187},{"p":"95% variance","m":"RF+CNN1-pet","f":0.08,"y":153,"lo":138,"hi":168},{"p":"95% variance","m":"RF+CNN1-pet","f":0.13,"y":137,"lo":125,"hi":149},{"p":"95% variance","m":"RF+CNN1-pet","f":0.21,"y":129,"lo":119,"hi":139},{"p":"95% variance","m":"RF+CNN1-pet","f":0.36,"y":119,"lo":109,"hi":129},{"p":"95% variance","m":"RF+CNN1-pet","f":0.6,"y":109,"lo":99,"hi":119},{"p":"95% variance","m":"RF+CNN1-pet","f":1,"y":77,"lo":52,"hi":102},
      {"p":"95% variance","m":"RF+CNN1-modpet","f":0.01,"y":245,"lo":230,"hi":260},{"p":"95% variance","m":"RF+CNN1-modpet","f":0.02,"y":181,"lo":151,"hi":211},{"p":"95% variance","m":"RF+CNN1-modpet","f":0.03,"y":165,"lo":145,"hi":185},{"p":"95% variance","m":"RF+CNN1-modpet","f":0.05,"y":145,"lo":120,"hi":170},{"p":"95% variance","m":"RF+CNN1-modpet","f":0.08,"y":121,"lo":106,"hi":136},{"p":"95% variance","m":"RF+CNN1-modpet","f":0.13,"y":113,"lo":103,"hi":123},{"p":"95% variance","m":"RF+CNN1-modpet","f":0.21,"y":106,"lo":98,"hi":114},{"p":"95% variance","m":"RF+CNN1-modpet","f":0.36,"y":98,"lo":91,"hi":105},{"p":"95% variance","m":"RF+CNN1-modpet","f":0.6,"y":97,"lo":90,"hi":104},{"p":"95% variance","m":"RF+CNN1-modpet","f":1,"y":45,"lo":25,"hi":65},
      {"p":"95% variance","m":"RF+CNN2-PTR","f":0.01,"y":252,"lo":217,"hi":287},{"p":"95% variance","m":"RF+CNN2-PTR","f":0.02,"y":203,"lo":178,"hi":228},{"p":"95% variance","m":"RF+CNN2-PTR","f":0.03,"y":189,"lo":167,"hi":211},{"p":"95% variance","m":"RF+CNN2-PTR","f":0.05,"y":174,"lo":156,"hi":192},{"p":"95% variance","m":"RF+CNN2-PTR","f":0.08,"y":162,"lo":147,"hi":177},{"p":"95% variance","m":"RF+CNN2-PTR","f":0.13,"y":141,"lo":129,"hi":153},{"p":"95% variance","m":"RF+CNN2-PTR","f":0.21,"y":125,"lo":115,"hi":135},{"p":"95% variance","m":"RF+CNN2-PTR","f":0.36,"y":109,"lo":99,"hi":119},{"p":"95% variance","m":"RF+CNN2-PTR","f":0.6,"y":99,"lo":89,"hi":109},{"p":"95% variance","m":"RF+CNN2-PTR","f":1,"y":69,"lo":44,"hi":94},

      {"p":"99% variance","m":"RF","f":0.01,"y":253,"lo":218,"hi":288},{"p":"99% variance","m":"RF","f":0.02,"y":198,"lo":173,"hi":223},{"p":"99% variance","m":"RF","f":0.03,"y":189,"lo":167,"hi":211},{"p":"99% variance","m":"RF","f":0.05,"y":177,"lo":159,"hi":195},{"p":"99% variance","m":"RF","f":0.08,"y":161,"lo":146,"hi":176},{"p":"99% variance","m":"RF","f":0.13,"y":133,"lo":121,"hi":145},{"p":"99% variance","m":"RF","f":0.21,"y":117,"lo":107,"hi":127},{"p":"99% variance","m":"RF","f":0.36,"y":99,"lo":89,"hi":109},{"p":"99% variance","m":"RF","f":0.6,"y":93,"lo":83,"hi":103},{"p":"99% variance","m":"RF","f":1,"y":45,"lo":20,"hi":70},
      {"p":"99% variance","m":"RF+DNN","f":0.01,"y":254,"lo":214,"hi":294},{"p":"99% variance","m":"RF+DNN","f":0.02,"y":221,"lo":208,"hi":234},{"p":"99% variance","m":"RF+DNN","f":0.03,"y":213,"lo":200,"hi":226},{"p":"99% variance","m":"RF+DNN","f":0.05,"y":205,"lo":193,"hi":217},{"p":"99% variance","m":"RF+DNN","f":0.08,"y":193,"lo":180,"hi":206},{"p":"99% variance","m":"RF+DNN","f":0.13,"y":177,"lo":167,"hi":187},{"p":"99% variance","m":"RF+DNN","f":0.21,"y":158,"lo":150,"hi":166},{"p":"99% variance","m":"RF+DNN","f":0.36,"y":145,"lo":137,"hi":153},{"p":"99% variance","m":"RF+DNN","f":0.6,"y":137,"lo":127,"hi":147},{"p":"99% variance","m":"RF+DNN","f":1,"y":109,"lo":70,"hi":150},
      {"p":"99% variance","m":"RF+CNN1-atom","f":0.01,"y":253,"lo":218,"hi":288},{"p":"99% variance","m":"RF+CNN1-atom","f":0.02,"y":218,"lo":193,"hi":243},{"p":"99% variance","m":"RF+CNN1-atom","f":0.03,"y":205,"lo":183,"hi":227},{"p":"99% variance","m":"RF+CNN1-atom","f":0.05,"y":185,"lo":167,"hi":203},{"p":"99% variance","m":"RF+CNN1-atom","f":0.08,"y":173,"lo":158,"hi":188},{"p":"99% variance","m":"RF+CNN1-atom","f":0.13,"y":157,"lo":145,"hi":169},{"p":"99% variance","m":"RF+CNN1-atom","f":0.21,"y":137,"lo":127,"hi":147},{"p":"99% variance","m":"RF+CNN1-atom","f":0.36,"y":125,"lo":115,"hi":135},{"p":"99% variance","m":"RF+CNN1-atom","f":0.6,"y":109,"lo":99,"hi":119},{"p":"99% variance","m":"RF+CNN1-atom","f":1,"y":85,"lo":60,"hi":110},
      {"p":"99% variance","m":"RF+CNN1-alph","f":0.01,"y":253,"lo":218,"hi":288},{"p":"99% variance","m":"RF+CNN1-alph","f":0.02,"y":225,"lo":200,"hi":250},{"p":"99% variance","m":"RF+CNN1-alph","f":0.03,"y":217,"lo":195,"hi":239},{"p":"99% variance","m":"RF+CNN1-alph","f":0.05,"y":197,"lo":179,"hi":215},{"p":"99% variance","m":"RF+CNN1-alph","f":0.08,"y":181,"lo":166,"hi":196},{"p":"99% variance","m":"RF+CNN1-alph","f":0.13,"y":165,"lo":153,"hi":177},{"p":"99% variance","m":"RF+CNN1-alph","f":0.21,"y":149,"lo":139,"hi":159},{"p":"99% variance","m":"RF+CNN1-alph","f":0.36,"y":133,"lo":123,"hi":143},{"p":"99% variance","m":"RF+CNN1-alph","f":0.6,"y":117,"lo":107,"hi":127},{"p":"99% variance","m":"RF+CNN1-alph","f":1,"y":109,"lo":70,"hi":150},
      {"p":"99% variance","m":"RF+CNN1-rand","f":0.01,"y":253,"lo":218,"hi":288},{"p":"99% variance","m":"RF+CNN1-rand","f":0.02,"y":229,"lo":204,"hi":254},{"p":"99% variance","m":"RF+CNN1-rand","f":0.03,"y":217,"lo":195,"hi":239},{"p":"99% variance","m":"RF+CNN1-rand","f":0.05,"y":209,"lo":191,"hi":227},{"p":"99% variance","m":"RF+CNN1-rand","f":0.08,"y":193,"lo":178,"hi":208},{"p":"99% variance","m":"RF+CNN1-rand","f":0.13,"y":173,"lo":161,"hi":185},{"p":"99% variance","m":"RF+CNN1-rand","f":0.21,"y":157,"lo":147,"hi":167},{"p":"99% variance","m":"RF+CNN1-rand","f":0.36,"y":141,"lo":131,"hi":151},{"p":"99% variance","m":"RF+CNN1-rand","f":0.6,"y":117,"lo":107,"hi":127},{"p":"99% variance","m":"RF+CNN1-rand","f":1,"y":93,"lo":68,"hi":118},
      {"p":"99% variance","m":"RF+CNN1-pet","f":0.01,"y":253,"lo":218,"hi":288},{"p":"99% variance","m":"RF+CNN1-pet","f":0.02,"y":217,"lo":192,"hi":242},{"p":"99% variance","m":"RF+CNN1-pet","f":0.03,"y":201,"lo":179,"hi":223},{"p":"99% variance","m":"RF+CNN1-pet","f":0.05,"y":181,"lo":163,"hi":199},{"p":"99% variance","m":"RF+CNN1-pet","f":0.08,"y":169,"lo":154,"hi":184},{"p":"99% variance","m":"RF+CNN1-pet","f":0.13,"y":149,"lo":137,"hi":161},{"p":"99% variance","m":"RF+CNN1-pet","f":0.21,"y":133,"lo":123,"hi":143},{"p":"99% variance","m":"RF+CNN1-pet","f":0.36,"y":118,"lo":108,"hi":128},{"p":"99% variance","m":"RF+CNN1-pet","f":0.6,"y":106,"lo":96,"hi":116},{"p":"99% variance","m":"RF+CNN1-pet","f":1,"y":81,"lo":56,"hi":106},
      {"p":"99% variance","m":"RF+CNN1-modpet","f":0.01,"y":253,"lo":238,"hi":268},{"p":"99% variance","m":"RF+CNN1-modpet","f":0.02,"y":221,"lo":191,"hi":251},{"p":"99% variance","m":"RF+CNN1-modpet","f":0.03,"y":201,"lo":181,"hi":221},{"p":"99% variance","m":"RF+CNN1-modpet","f":0.05,"y":157,"lo":132,"hi":182},{"p":"99% variance","m":"RF+CNN1-modpet","f":0.08,"y":131,"lo":116,"hi":146},{"p":"99% variance","m":"RF+CNN1-modpet","f":0.13,"y":115,"lo":105,"hi":125},{"p":"99% variance","m":"RF+CNN1-modpet","f":0.21,"y":109,"lo":101,"hi":117},{"p":"99% variance","m":"RF+CNN1-modpet","f":0.36,"y":98,"lo":91,"hi":105},{"p":"99% variance","m":"RF+CNN1-modpet","f":0.6,"y":93,"lo":86,"hi":100},{"p":"99% variance","m":"RF+CNN1-modpet","f":1,"y":53,"lo":33,"hi":73},
      {"p":"99% variance","m":"RF+CNN2-PTR","f":0.01,"y":253,"lo":218,"hi":288},{"p":"99% variance","m":"RF+CNN2-PTR","f":0.02,"y":218,"lo":193,"hi":243},{"p":"99% variance","m":"RF+CNN2-PTR","f":0.03,"y":209,"lo":187,"hi":231},{"p":"99% variance","m":"RF+CNN2-PTR","f":0.05,"y":197,"lo":179,"hi":215},{"p":"99% variance","m":"RF+CNN2-PTR","f":0.08,"y":173,"lo":158,"hi":188},{"p":"99% variance","m":"RF+CNN2-PTR","f":0.13,"y":141,"lo":129,"hi":153},{"p":"99% variance","m":"RF+CNN2-PTR","f":0.21,"y":121,"lo":111,"hi":131},{"p":"99% variance","m":"RF+CNN2-PTR","f":0.36,"y":109,"lo":99,"hi":119},{"p":"99% variance","m":"RF+CNN2-PTR","f":0.6,"y":99,"lo":89,"hi":109},{"p":"99% variance","m":"RF+CNN2-PTR","f":1,"y":65,"lo":40,"hi":90}
    ]
  },
  "vconcat": [
    {
      "title": {"text": "A", "anchor": "start", "frame": "bounds", "dx": -10, "offset": 4, "fontSize": 13, "fontWeight": "bold"},
      "transform": [{"filter": {"field": "p", "oneOf": ["5 components", "10 components", "20 components"]}}],
      "facet": {"column": {"field": "p", "type": "nominal", "title": "Fraction used for training (log)", "sort": ["5 components", "10 components", "20 components"]}},
      "spacing": 9,
      "spec": {
        "width": 223,
        "height": 205,
        "encoding": {
          "x": {"field": "f", "type": "quantitative", "scale": {"type": "log", "domain": [0.007943, 1.2589], "nice": false},
            "axis": {"title": null, "values": [0.009, 0.01, 0.02, 0.03, 0.04, 0.05, 0.06, 0.07, 0.08, 0.09, 0.1, 0.2, 0.3, 0.4, 0.5, 0.6, 0.7, 0.8, 0.9, 1],
              "labelExpr": "datum.value == 0.01 ? '10⁻²' : datum.value == 0.1 ? '10⁻¹' : datum.value == 1 ? '10⁰' : ''",
              "labelOverlap": false, "labelPadding": 0,
              "tickSize": {"condition": {"test": "datum.value == 0.01 || datum.value == 0.1 || datum.value == 1", "value": 3.5}, "value": 2}}}
        },
        "layer": [
          {"mark": {"type": "area", "opacity": 0.05},
           "encoding": {
             "y": {"field": "lo", "type": "quantitative", "title": "Average RMSE", "scale": {"domain": [0, 493], "nice": false, "zero": false}, "axis": {"values": [0, 100, 200, 300, 400], "labelPadding": 1, "titlePadding": 2}},
             "y2": {"field": "hi"},
             "fill": {"field": "m", "type": "nominal", "legend": null, "scale": {"range": ["#1f77b4", "#ff7f0e", "#9467bd", "#d62728", "#7f7f7f", "#e377c2", "#8c564b", "#bcbd22", "#2ca02c"]}}
           }},
          {"mark": {"type": "rule", "strokeWidth": 1},
           "encoding": {
             "y": {"field": "lo", "type": "quantitative", "title": "Average RMSE"},
             "y2": {"field": "hi"},
             "color": {"field": "m", "type": "nominal", "title": null},
             "opacity": {"condition": {"test": "datum.m == 'Baseline'", "value": 0.9}, "value": 0.5}
           }},
          {"mark": {"type": "tick", "orient": "horizontal", "size": 6, "thickness": 1},
           "encoding": {
             "y": {"field": "lo", "type": "quantitative", "title": "Average RMSE"},
             "color": {"field": "m", "type": "nominal", "title": null},
             "opacity": {"condition": {"test": "datum.m == 'Baseline'", "value": 0.9}, "value": 0.5}
           }},
          {"mark": {"type": "tick", "orient": "horizontal", "size": 6, "thickness": 1},
           "encoding": {
             "y": {"field": "hi", "type": "quantitative", "title": "Average RMSE"},
             "color": {"field": "m", "type": "nominal", "title": null},
             "opacity": {"condition": {"test": "datum.m == 'Baseline'", "value": 0.9}, "value": 0.5}
           }},
          {"mark": {"type": "line", "strokeWidth": 1.2},
           "encoding": {
             "y": {"field": "y", "type": "quantitative", "title": "Average RMSE"},
             "color": {"field": "m", "type": "nominal", "title": null,
               "scale": {"domain": ["Baseline", "RF+DNN", "RF+CNN1-alph", "RF+CNN1-pet", "RF+CNN2-PTR", "RF", "RF+CNN1-atom", "RF+CNN1-rand", "RF+CNN1-modpet"], "range": ["#1f77b4", "#2ca02c", "#9467bd", "#e377c2", "#bcbd22", "#ff7f0e", "#d62728", "#8c564b", "#7f7f7f"]},
               "legend": {"orient": "none", "legendX": 26, "legendY": 523, "columns": 5, "direction": "horizontal",
                 "encode": {"symbols": {"update": {"fill": {"value": "transparent"}, "strokeWidth": {"value": 1.3}, "opacity": {"signal": "datum.value == 'Baseline' ? 1 : 0.55"}, "strokeDash": {"signal": "datum.value == 'Baseline' ? [1, 0] : [3, 1.5]"}}}}}},
             "strokeDash": {"condition": {"test": "datum.m == 'Baseline'", "value": [1, 0]}, "value": [4, 2]},
             "opacity": {"condition": {"test": "datum.m == 'Baseline'", "value": 1}, "value": 0.7}
           }}
        ]
      }
    },
    {
      "title": {"text": "B", "anchor": "start", "frame": "bounds", "dx": -10, "offset": 4, "fontSize": 13, "fontWeight": "bold"},
      "transform": [{"filter": {"field": "p", "oneOf": ["90% variance", "95% variance", "99% variance"]}}],
      "facet": {"column": {"field": "p", "type": "nominal", "title": "Fraction used for training (log)", "sort": ["90% variance", "95% variance", "99% variance"]}},
      "spacing": 9,
      "spec": {
        "width": 223,
        "height": 205,
        "encoding": {
          "x": {"field": "f", "type": "quantitative", "scale": {"type": "log", "domain": [0.007943, 1.2589], "nice": false},
            "axis": {"title": null, "values": [0.009, 0.01, 0.02, 0.03, 0.04, 0.05, 0.06, 0.07, 0.08, 0.09, 0.1, 0.2, 0.3, 0.4, 0.5, 0.6, 0.7, 0.8, 0.9, 1],
              "labelExpr": "datum.value == 0.01 ? '10⁻²' : datum.value == 0.1 ? '10⁻¹' : datum.value == 1 ? '10⁰' : ''",
              "labelOverlap": false, "labelPadding": 0,
              "tickSize": {"condition": {"test": "datum.value == 0.01 || datum.value == 0.1 || datum.value == 1", "value": 3.5}, "value": 2}}}
        },
        "layer": [
          {"mark": {"type": "area", "opacity": 0.05},
           "encoding": {
             "y": {"field": "lo", "type": "quantitative", "title": "Average RMSE", "scale": {"domain": [0, 493], "nice": false, "zero": false}, "axis": {"values": [0, 100, 200, 300, 400], "labelPadding": 1, "titlePadding": 2}},
             "y2": {"field": "hi"},
             "fill": {"field": "m", "type": "nominal", "legend": null}
           }},
          {"mark": {"type": "rule", "strokeWidth": 1},
           "encoding": {
             "y": {"field": "lo", "type": "quantitative", "title": "Average RMSE"},
             "y2": {"field": "hi"},
             "color": {"field": "m", "type": "nominal", "title": null},
             "opacity": {"condition": {"test": "datum.m == 'Baseline'", "value": 0.9}, "value": 0.5}
           }},
          {"mark": {"type": "tick", "orient": "horizontal", "size": 6, "thickness": 1},
           "encoding": {
             "y": {"field": "lo", "type": "quantitative", "title": "Average RMSE"},
             "color": {"field": "m", "type": "nominal", "title": null},
             "opacity": {"condition": {"test": "datum.m == 'Baseline'", "value": 0.9}, "value": 0.5}
           }},
          {"mark": {"type": "tick", "orient": "horizontal", "size": 6, "thickness": 1},
           "encoding": {
             "y": {"field": "hi", "type": "quantitative", "title": "Average RMSE"},
             "color": {"field": "m", "type": "nominal", "title": null},
             "opacity": {"condition": {"test": "datum.m == 'Baseline'", "value": 0.9}, "value": 0.5}
           }},
          {"mark": {"type": "line", "strokeWidth": 1.2},
           "encoding": {
             "y": {"field": "y", "type": "quantitative", "title": "Average RMSE"},
             "color": {"field": "m", "type": "nominal", "title": null},
             "strokeDash": {"condition": {"test": "datum.m == 'Baseline'", "value": [1, 0]}, "value": [4, 2]},
             "opacity": {"condition": {"test": "datum.m == 'Baseline'", "value": 1}, "value": 0.7}
           }}
        ]
      }
    }
  ],
  "spacing": 5,
  "config": {
    "font": "DejaVu Sans",
    "view": {"stroke": "#555", "strokeWidth": 1},
    "axis": {"grid": false, "domain": false, "tickColor": "#000", "tickWidth": 0.8, "tickSize": 3.5, "labelFont": "DejaVu Sans", "labelFontSize": 10, "labelColor": "#000", "titleFont": "DejaVu Sans", "titleFontSize": 11, "titleFontWeight": "normal", "titleColor": "#000"},
    "header": {"labelOrient": "top", "titleOrient": "bottom", "labelFont": "DejaVu Sans", "labelFontSize": 10, "labelColor": "#000", "labelPadding": -2, "titleFont": "DejaVu Sans", "titleFontSize": 11, "titleFontWeight": "normal", "titleColor": "#000", "titlePadding": -4},
    "title": {"font": "DejaVu Sans", "color": "#000"},
    "legend": {
      "symbolType": "M-1,0H1M0,-0.6V0.6M-0.2,-0.6H0.2M-0.2,0.6H0.2", "symbolSize": 278, "symbolStrokeWidth": 1.3,
      "labelFont": "DejaVu Sans", "labelFontSize": 8.33, "labelColor": "#000", "labelOffset": 6.5,
      "columnPadding": 14, "rowPadding": -2, "padding": 4,
      "strokeColor": "#cccccc", "fillColor": "#ffffff", "cornerRadius": 3
    }
  }
}
